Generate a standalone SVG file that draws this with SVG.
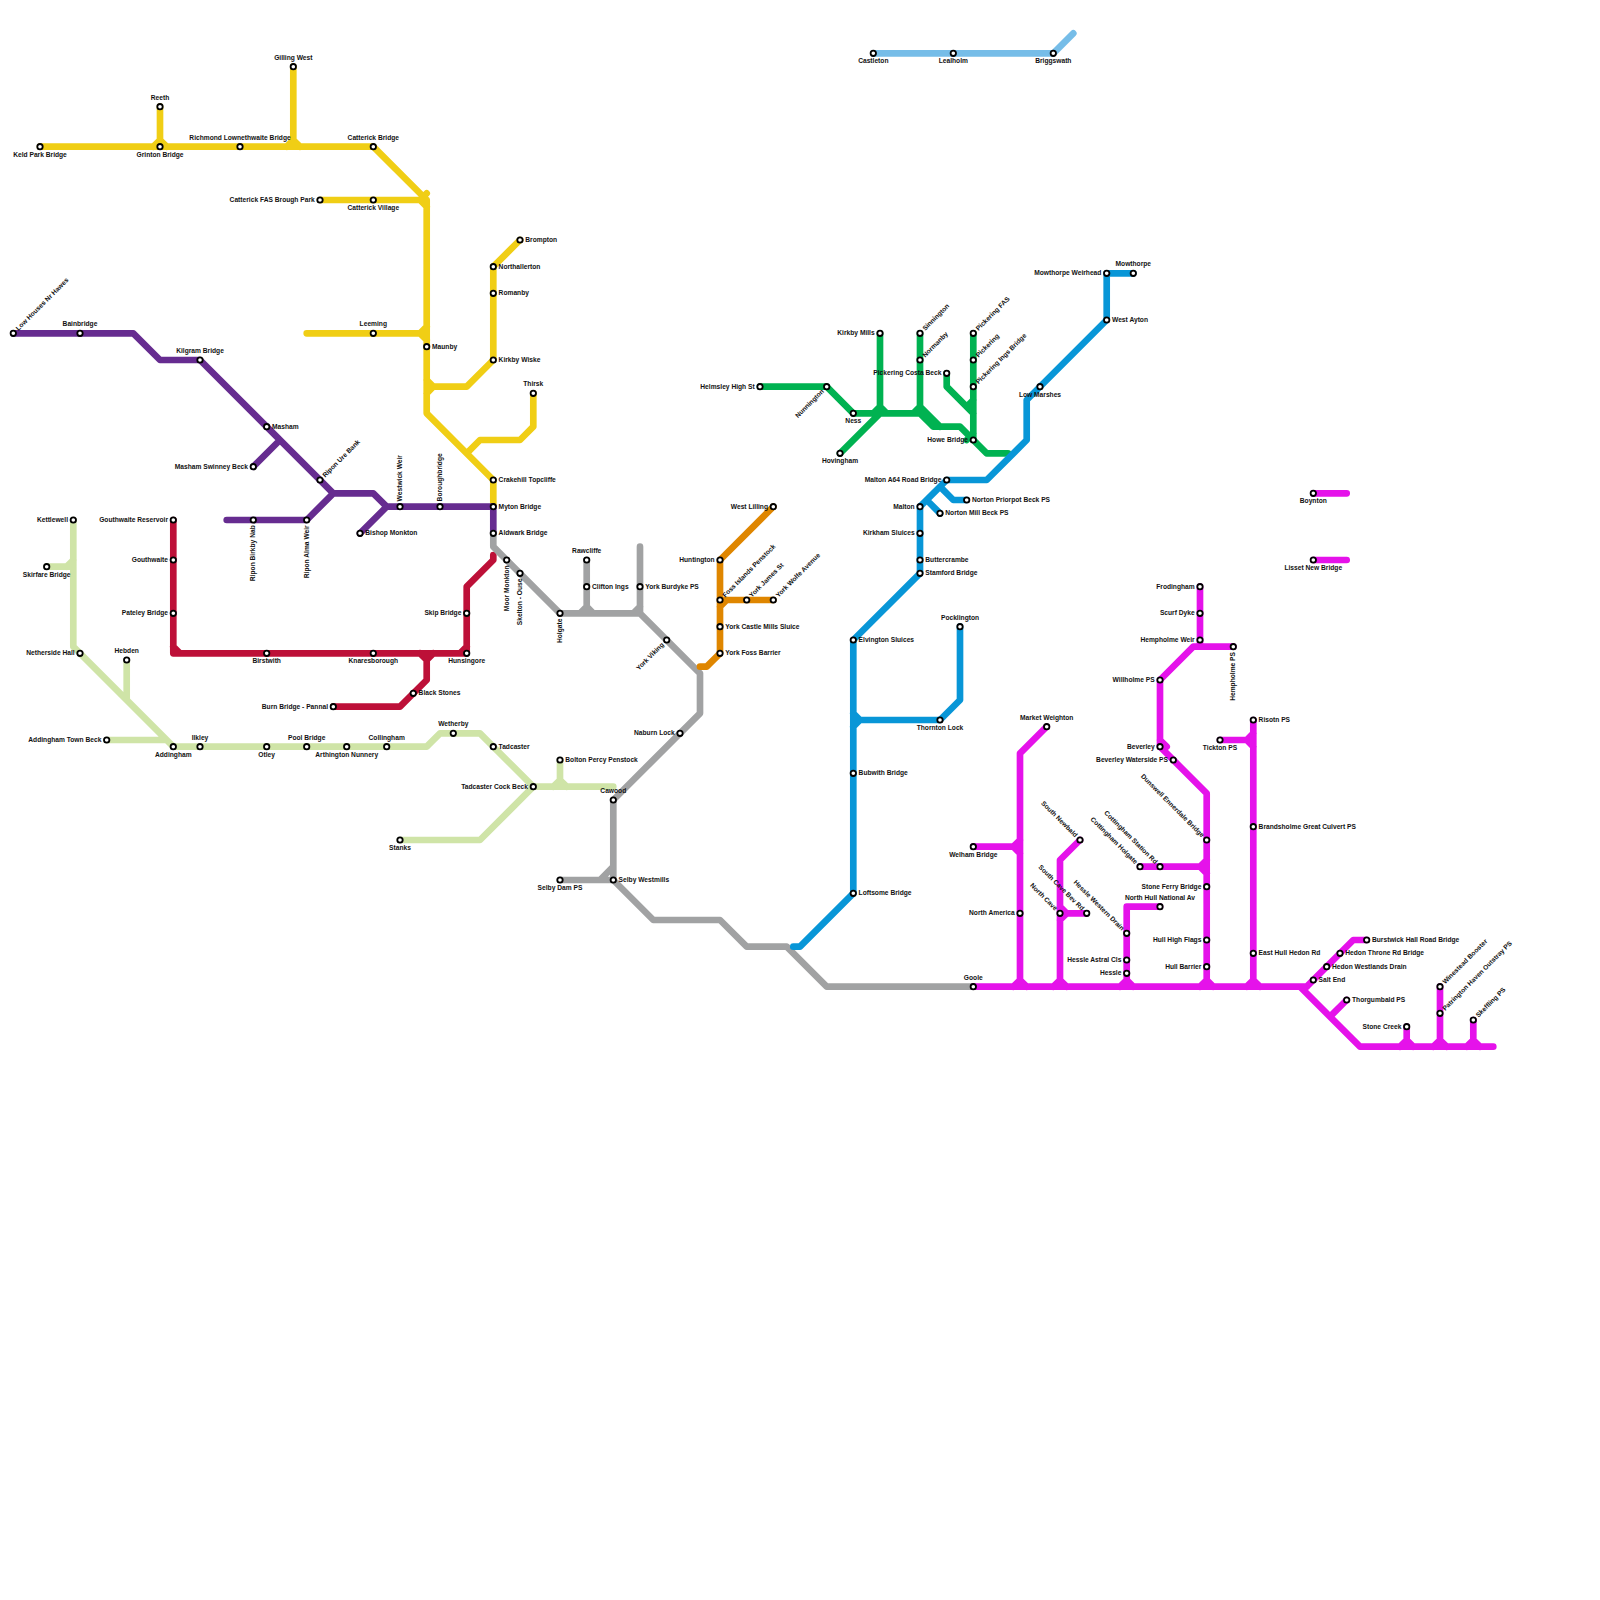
<svg xmlns="http://www.w3.org/2000/svg" width="1600" height="1600" viewBox="0 0 1600 1600">
<style>
text{font-family:"Liberation Sans",Arial,sans-serif;font-size:6.67px;font-weight:bold;fill:#111}
circle{fill:#fff;stroke:#000;stroke-width:1.8}
.l{fill:none;stroke-width:6.67;stroke-linecap:round;stroke-linejoin:round}
.e{text-anchor:end}.m{text-anchor:middle}
</style>
<rect width="1600" height="1600" fill="#fff"/>
<g id="connectors">
<path id="line-lightblue" class="l" stroke="#76bde8" d="M873.3,53.3H1053.3L1073.3,33.3"/>
<path id="line-yellow" class="l" stroke="#f0ce15" d="M40,146.7H373.3L426.7,200V413.3L493.3,480V506.7M160,106.7V146.7M153.3,146.7L160,140L166.7,146.7M293.3,66.7V146.7M286.7,146.7L293.3,140L300,146.7M320,200H426.7M426.7,193.3L420,200L426.7,206.7M306.7,333.3H426.7M426.7,326.7L420,333.3L426.7,340M426.7,386.7H466.7L493.3,360V266.7L520,240M426.7,380L433.3,386.7L426.7,393.3M533.3,393.3V426.7L520,440H480L466.7,453.3"/>
<path id="line-purple" class="l" stroke="#662c90" d="M13.3,333.3H133.3L160,360H200L333.3,493.3H373.3L386.7,506.7H493.3V533.3M253.3,466.7L280,440M226.7,520H306.7L333.3,493.3M360,533.3L386.7,506.7"/>
<path id="line-crimson" class="l" stroke="#bd1038" d="M173.3,520V653.3H466.7V586.7L493.3,560V555M173.3,646.7L180,653.3M460,653.3L466.7,646.7M426.7,653.3V680L400,706.7H333.3M420,653.3L426.7,660L433.3,653.3"/>
<path id="line-lightgreen" class="l" stroke="#cfe4a7" d="M73.3,520V646.7L173.3,746.7H426.7L440,733.3H480L533.3,786.7H613.3M46.7,566.7H73.3M66.7,566.7L73.3,560M126.7,660V700L120,693.3M106.7,740H166.7L160,733.3M560,760V786.7M553.3,786.7L560,780L566.7,786.7M400,840H480L533.3,786.7"/>
<path id="line-grey" class="l" stroke="#a1a2a3" d="M493.3,533.3V546.7L560,613.3H640L700,673.3V713.3L613.3,800V880L653.3,920H720L746.7,946.7H786.7L826.7,986.7H973.3M586.7,560V613.3M580,613.3L586.7,606.7L593.3,613.3M640,546.7V613.3L633.3,613.3L640,606.7M560,880H613.3M600,880L613.3,866.7V880Z"/>
<path id="line-orange" class="l" stroke="#df8600" d="M773.3,506.7L720,560V653.3L706.7,666.7H700M720,600H773.3M720,606.7L726.7,600"/>
<path id="line-green" class="l" stroke="#00b251" d="M760,386.7H826.7L853.3,413.3H920L933.3,426.7H960L986.7,453.3H1008M880,333.3V413.3M873.3,413.3L880,406.7L886.7,413.3M840,453.3L880,413.3M920,333.3V413.3M913.3,413.3L920,406.7L940,426.7M973.3,333.3V440M966.7,440L973.3,433.3M946.7,373.3V386.7L973.3,413.3M966.7,406.7L973.3,400"/>
<path id="line-blue" class="l" stroke="#0896d7" d="M1133.3,273.3H1106.7V320L1026.7,400V440L986.7,480H946.7L920,506.7V573.3L853.3,640V893.3L800,946.7H793.3M940,486.7L953.3,500H966.7M926.7,500L940,513.3M960,626.7V700L940,720H853.3M853.3,713.3L860,720L853.3,726.7"/>
<path id="line-magenta" class="l" stroke="#e512ea" d="M973.3,986.7H1306.7M1300,986.7L1360,1046.7H1493.3M1306.7,986.7L1353.3,940H1366.7M1346.7,1000L1330,1016.7M1406.7,1026.7V1046.7M1400,1046.7L1406.7,1040L1413.3,1046.7M1440,986.7V1046.7M1433.3,1046.7L1440,1040L1446.7,1046.7M1473.3,1020V1046.7M1466.7,1046.7L1473.3,1040L1480,1046.7M1046.7,726.7L1020,753.3V986.7M1013.3,986.7L1020,980L1026.7,986.7M973.3,846.7H1020M1020,840L1013.3,846.7L1020,853.3M1080,840L1060,860V986.7M1053.3,986.7L1060,980L1066.7,986.7M1060,913.3H1086.7M1060,906.7L1066.7,913.3L1060,920M1160,906.7H1126.7V986.7M1120,986.7L1126.7,980L1133.3,986.7M1200,586.7V646.7M1233.3,646.7H1193.3L1160,680V746.7L1206.7,793.3V986.7M1200,986.7L1206.7,980L1213.3,986.7M1140,866.7H1206.7M1206.7,860L1200,866.7L1206.7,873.3M1220,740H1253.3M1253.3,733.3L1246.7,740L1253.3,746.7M1253.3,720V986.7M1246.7,986.7L1253.3,980L1260,986.7M1160,740L1166.7,746.7M1313.3,493.3H1346.7M1313.3,560H1346.7"/>
</g>
<g id="nodes">
<g id="keld-park-bridge"><circle cx="40" cy="146.7" r="2.7"/><text class="m" x="40" y="156.7">Keld Park Bridge</text></g>
<g id="grinton-bridge"><circle cx="160" cy="146.7" r="2.7"/><text class="m" x="160" y="156.7">Grinton Bridge</text></g>
<g id="reeth"><circle cx="160" cy="106.7" r="2.7"/><text class="m" x="160" y="99.7">Reeth</text></g>
<g id="richmond"><circle cx="240" cy="146.7" r="2.7"/><text class="m" x="240" y="139.7">Richmond Lownethwaite Bridge</text></g>
<g id="gilling-west"><circle cx="293.3" cy="66.7" r="2.7"/><text class="m" x="293.3" y="59.7">Gilling West</text></g>
<g id="catterick-bridge"><circle cx="373.3" cy="146.7" r="2.7"/><text class="m" x="373.3" y="139.7">Catterick Bridge</text></g>
<g id="catterick-fas"><circle cx="320" cy="200" r="2.7"/><text class="e" x="314.7" y="202">Catterick FAS Brough Park</text></g>
<g id="catterick-village"><circle cx="373.3" cy="200" r="2.7"/><text class="m" x="373.3" y="210">Catterick Village</text></g>
<g id="leeming"><circle cx="373.3" cy="333.3" r="2.7"/><text class="m" x="373.3" y="326.3">Leeming</text></g>
<g id="maunby"><circle cx="426.7" cy="346.7" r="2.7"/><text x="432" y="348.7">Maunby</text></g>
<g id="brompton"><circle cx="520" cy="240" r="2.7"/><text x="525.3" y="242">Brompton</text></g>
<g id="northallerton"><circle cx="493.3" cy="266.7" r="2.7"/><text x="498.6" y="268.7">Northallerton</text></g>
<g id="romanby"><circle cx="493.3" cy="293.3" r="2.7"/><text x="498.6" y="295.3">Romanby</text></g>
<g id="kirkby-wiske"><circle cx="493.3" cy="360" r="2.7"/><text x="498.6" y="362">Kirkby Wiske</text></g>
<g id="thirsk"><circle cx="533.3" cy="393.3" r="2.7"/><text class="m" x="533.3" y="386.3">Thirsk</text></g>
<g id="crakehill-topcliffe"><circle cx="493.3" cy="480" r="2.7"/><text x="498.6" y="482">Crakehill Topcliffe</text></g>
<g id="myton-bridge"><circle cx="493.3" cy="506.7" r="2.7"/><text x="498.6" y="508.7">Myton Bridge</text></g>
<g id="aldwark-bridge"><circle cx="493.3" cy="533.3" r="2.7"/><text x="498.6" y="535.3">Aldwark Bridge</text></g>
<g id="low-houses"><circle cx="13.3" cy="333.3" r="2.7"/><text x="18.6" y="335.3" transform="rotate(-45 13.3 333.3)">Low Houses Nr Hawes</text></g>
<g id="bainbridge"><circle cx="80" cy="333.3" r="2.7"/><text class="m" x="80" y="326.3">Bainbridge</text></g>
<g id="kilgram-bridge"><circle cx="200" cy="360" r="2.7"/><text class="m" x="200" y="353">Kilgram Bridge</text></g>
<g id="masham"><circle cx="266.7" cy="426.7" r="2.7"/><text x="272" y="428.7">Masham</text></g>
<g id="masham-swinney-beck"><circle cx="253.3" cy="466.7" r="2.7"/><text class="e" x="248" y="468.7">Masham Swinney Beck</text></g>
<g id="ripon-ure-bank"><circle cx="320" cy="480" r="2.7"/><text x="325.3" y="482" transform="rotate(-45 320 480)">Ripon Ure Bank</text></g>
<g id="westwick-weir"><circle cx="400" cy="506.7" r="2.7"/><text x="405.3" y="508.7" transform="rotate(-90 400 506.7)">Westwick Weir</text></g>
<g id="boroughbridge"><circle cx="440" cy="506.7" r="2.7"/><text x="445.3" y="508.7" transform="rotate(-90 440 506.7)">Boroughbridge</text></g>
<g id="bishop-monkton"><circle cx="360" cy="533.3" r="2.7"/><text x="365.3" y="535.3">Bishop Monkton</text></g>
<g id="ripon-alma-weir"><circle cx="306.7" cy="520" r="2.7"/><text class="e" x="301.4" y="522" transform="rotate(-90 306.7 520)">Ripon Alma Weir</text></g>
<g id="ripon-birkby-nab"><circle cx="253.3" cy="520" r="2.7"/><text class="e" x="248" y="522" transform="rotate(-90 253.3 520)">Ripon Birkby Nab</text></g>
<g id="gouthwaite-reservoir"><circle cx="173.3" cy="520" r="2.7"/><text class="e" x="168" y="522">Gouthwaite Reservoir</text></g>
<g id="gouthwaite"><circle cx="173.3" cy="560" r="2.7"/><text class="e" x="168" y="562">Gouthwaite</text></g>
<g id="pateley-bridge"><circle cx="173.3" cy="613.3" r="2.7"/><text class="e" x="168" y="615.3">Pateley Bridge</text></g>
<g id="birstwith"><circle cx="266.7" cy="653.3" r="2.7"/><text class="m" x="266.7" y="663.3">Birstwith</text></g>
<g id="knaresborough"><circle cx="373.3" cy="653.3" r="2.7"/><text class="m" x="373.3" y="663.3">Knaresborough</text></g>
<g id="hunsingore"><circle cx="466.7" cy="653.3" r="2.7"/><text class="m" x="466.7" y="663.3">Hunsingore</text></g>
<g id="skip-bridge"><circle cx="466.7" cy="613.3" r="2.7"/><text class="e" x="461.4" y="615.3">Skip Bridge</text></g>
<g id="black-stones"><circle cx="413.3" cy="693.3" r="2.7"/><text x="418.6" y="695.3">Black Stones</text></g>
<g id="burn-bridge-pannal"><circle cx="333.3" cy="706.7" r="2.7"/><text class="e" x="328" y="708.7">Burn Bridge - Pannal</text></g>
<g id="kettlewell"><circle cx="73.3" cy="520" r="2.7"/><text class="e" x="68" y="522">Kettlewell</text></g>
<g id="skirfare-bridge"><circle cx="46.7" cy="566.7" r="2.7"/><text class="m" x="46.7" y="576.7">Skirfare Bridge</text></g>
<g id="netherside-hall"><circle cx="80" cy="653.3" r="2.7"/><text class="e" x="74.7" y="655.3">Netherside Hall</text></g>
<g id="hebden"><circle cx="126.7" cy="660" r="2.7"/><text class="m" x="126.7" y="653">Hebden</text></g>
<g id="addingham-town-beck"><circle cx="106.7" cy="740" r="2.7"/><text class="e" x="101.4" y="742">Addingham Town Beck</text></g>
<g id="addingham"><circle cx="173.3" cy="746.7" r="2.7"/><text class="m" x="173.3" y="756.7">Addingham</text></g>
<g id="ilkley"><circle cx="200" cy="746.7" r="2.7"/><text class="m" x="200" y="739.7">Ilkley</text></g>
<g id="otley"><circle cx="266.7" cy="746.7" r="2.7"/><text class="m" x="266.7" y="756.7">Otley</text></g>
<g id="pool-bridge"><circle cx="306.7" cy="746.7" r="2.7"/><text class="m" x="306.7" y="739.7">Pool Bridge</text></g>
<g id="arthington-nunnery"><circle cx="346.7" cy="746.7" r="2.7"/><text class="m" x="346.7" y="756.7">Arthington Nunnery</text></g>
<g id="collingham"><circle cx="386.7" cy="746.7" r="2.7"/><text class="m" x="386.7" y="739.7">Collingham</text></g>
<g id="wetherby"><circle cx="453.3" cy="733.3" r="2.7"/><text class="m" x="453.3" y="726.3">Wetherby</text></g>
<g id="tadcaster"><circle cx="493.3" cy="746.7" r="2.7"/><text x="498.6" y="748.7">Tadcaster</text></g>
<g id="tadcaster-cock-beck"><circle cx="533.3" cy="786.7" r="2.7"/><text class="e" x="528" y="788.7">Tadcaster Cock Beck</text></g>
<g id="bolton-percy-penstock"><circle cx="560" cy="760" r="2.7"/><text x="565.3" y="762">Bolton Percy Penstock</text></g>
<g id="stanks"><circle cx="400" cy="840" r="2.7"/><text class="m" x="400" y="850">Stanks</text></g>
<g id="moor-monkton"><circle cx="506.7" cy="560" r="2.7"/><text class="e" x="501.4" y="562" transform="rotate(-90 506.7 560)">Moor Monkton</text></g>
<g id="skelton-ouse"><circle cx="520" cy="573.3" r="2.7"/><text class="e" x="514.7" y="575.3" transform="rotate(-90 520 573.3)">Skelton - Ouse</text></g>
<g id="holgate"><circle cx="560" cy="613.3" r="2.7"/><text class="e" x="554.7" y="615.3" transform="rotate(-90 560 613.3)">Holgate</text></g>
<g id="rawcliffe"><circle cx="586.7" cy="560" r="2.7"/><text class="m" x="586.7" y="553">Rawcliffe</text></g>
<g id="clifton-ings"><circle cx="586.7" cy="586.7" r="2.7"/><text x="592" y="588.7">Clifton Ings</text></g>
<g id="york-burdyke-ps"><circle cx="640" cy="586.7" r="2.7"/><text x="645.3" y="588.7">York Burdyke PS</text></g>
<g id="york-viking"><circle cx="666.7" cy="640" r="2.7"/><text class="e" x="661.4" y="642" transform="rotate(-45 666.7 640)">York Viking</text></g>
<g id="naburn-lock"><circle cx="680" cy="733.3" r="2.7"/><text class="e" x="674.7" y="735.3">Naburn Lock</text></g>
<g id="cawood"><circle cx="613.3" cy="800" r="2.7"/><text class="m" x="613.3" y="793">Cawood</text></g>
<g id="selby-westmills"><circle cx="613.3" cy="880" r="2.7"/><text x="618.6" y="882">Selby Westmills</text></g>
<g id="selby-dam-ps"><circle cx="560" cy="880" r="2.7"/><text class="m" x="560" y="890">Selby Dam PS</text></g>
<g id="west-lilling"><circle cx="773.3" cy="506.7" r="2.7"/><text class="e" x="768" y="508.7">West Lilling</text></g>
<g id="huntington"><circle cx="720" cy="560" r="2.7"/><text class="e" x="714.7" y="562">Huntington</text></g>
<g id="foss-islands-penstock"><circle cx="720" cy="600" r="2.7"/><text x="725.3" y="602" transform="rotate(-45 720 600)">Foss Islands Penstock</text></g>
<g id="york-james-st"><circle cx="746.7" cy="600" r="2.7"/><text x="752" y="602" transform="rotate(-45 746.7 600)">York James St</text></g>
<g id="york-wolfe-avenue"><circle cx="773.3" cy="600" r="2.7"/><text x="778.6" y="602" transform="rotate(-45 773.3 600)">York Wolfe Avenue</text></g>
<g id="york-castle-mills-sluice"><circle cx="720" cy="626.7" r="2.7"/><text x="725.3" y="628.7">York Castle Mills Sluice</text></g>
<g id="york-foss-barrier"><circle cx="720" cy="653.3" r="2.7"/><text x="725.3" y="655.3">York Foss Barrier</text></g>
<g id="helmsley-high-st"><circle cx="760" cy="386.7" r="2.7"/><text class="e" x="754.7" y="388.7">Helmsley High St</text></g>
<g id="nunnington"><circle cx="826.7" cy="386.7" r="2.7"/><text class="e" x="821.4" y="388.7" transform="rotate(-45 826.7 386.7)">Nunnington</text></g>
<g id="ness"><circle cx="853.3" cy="413.3" r="2.7"/><text class="m" x="853.3" y="423.3">Ness</text></g>
<g id="hovingham"><circle cx="840" cy="453.3" r="2.7"/><text class="m" x="840" y="463.3">Hovingham</text></g>
<g id="kirkby-mills"><circle cx="880" cy="333.3" r="2.7"/><text class="e" x="874.7" y="335.3">Kirkby Mills</text></g>
<g id="sinnington"><circle cx="920" cy="333.3" r="2.7"/><text x="925.3" y="335.3" transform="rotate(-45 920 333.3)">Sinnington</text></g>
<g id="normanby"><circle cx="920" cy="360" r="2.7"/><text x="925.3" y="362" transform="rotate(-45 920 360)">Normanby</text></g>
<g id="pickering-costa-beck"><circle cx="946.7" cy="373.3" r="2.7"/><text class="e" x="941.4" y="375.3">Pickering Costa Beck</text></g>
<g id="pickering-fas"><circle cx="973.3" cy="333.3" r="2.7"/><text x="978.6" y="335.3" transform="rotate(-45 973.3 333.3)">Pickering FAS</text></g>
<g id="pickering"><circle cx="973.3" cy="360" r="2.7"/><text x="978.6" y="362" transform="rotate(-45 973.3 360)">Pickering</text></g>
<g id="pickering-ings-bridge"><circle cx="973.3" cy="386.7" r="2.7"/><text x="978.6" y="388.7" transform="rotate(-45 973.3 386.7)">Pickering Ings Bridge</text></g>
<g id="howe-bridge"><circle cx="973.3" cy="440" r="2.7"/><text class="e" x="968" y="442">Howe Bridge</text></g>
<g id="mowthorpe-weirhead"><circle cx="1106.7" cy="273.3" r="2.7"/><text class="e" x="1101.4" y="275.3">Mowthorpe Weirhead</text></g>
<g id="mowthorpe"><circle cx="1133.3" cy="273.3" r="2.7"/><text class="m" x="1133.3" y="266.3">Mowthorpe</text></g>
<g id="west-ayton"><circle cx="1106.7" cy="320" r="2.7"/><text x="1112" y="322">West Ayton</text></g>
<g id="low-marshes"><circle cx="1040" cy="386.7" r="2.7"/><text class="m" x="1040" y="396.7">Low Marshes</text></g>
<g id="malton-a64"><circle cx="946.7" cy="480" r="2.7"/><text class="e" x="941.4" y="482">Malton A64 Road Bridge</text></g>
<g id="norton-priorpot"><circle cx="966.7" cy="500" r="2.7"/><text x="972" y="502">Norton Priorpot Beck PS</text></g>
<g id="norton-mill-beck"><circle cx="940" cy="513.3" r="2.7"/><text x="945.3" y="515.3">Norton Mill Beck PS</text></g>
<g id="malton"><circle cx="920" cy="506.7" r="2.7"/><text class="e" x="914.7" y="508.7">Malton</text></g>
<g id="kirkham-sluices"><circle cx="920" cy="533.3" r="2.7"/><text class="e" x="914.7" y="535.3">Kirkham Sluices</text></g>
<g id="buttercrambe"><circle cx="920" cy="560" r="2.7"/><text x="925.3" y="562">Buttercrambe</text></g>
<g id="stamford-bridge"><circle cx="920" cy="573.3" r="2.7"/><text x="925.3" y="575.3">Stamford Bridge</text></g>
<g id="elvington-sluices"><circle cx="853.3" cy="640" r="2.7"/><text x="858.6" y="642">Elvington Sluices</text></g>
<g id="pocklington"><circle cx="960" cy="626.7" r="2.7"/><text class="m" x="960" y="619.7">Pocklington</text></g>
<g id="thornton-lock"><circle cx="940" cy="720" r="2.7"/><text class="m" x="940" y="730">Thornton Lock</text></g>
<g id="bubwith-bridge"><circle cx="853.3" cy="773.3" r="2.7"/><text x="858.6" y="775.3">Bubwith Bridge</text></g>
<g id="loftsome-bridge"><circle cx="853.3" cy="893.3" r="2.7"/><text x="858.6" y="895.3">Loftsome Bridge</text></g>
<g id="castleton"><circle cx="873.3" cy="53.3" r="2.7"/><text class="m" x="873.3" y="63.3">Castleton</text></g>
<g id="lealholm"><circle cx="953.3" cy="53.3" r="2.7"/><text class="m" x="953.3" y="63.3">Lealholm</text></g>
<g id="briggswath"><circle cx="1053.3" cy="53.3" r="2.7"/><text class="m" x="1053.3" y="63.3">Briggswath</text></g>
<g id="goole"><circle cx="973.3" cy="986.7" r="2.7"/><text class="m" x="973.3" y="979.7">Goole</text></g>
<g id="market-weighton"><circle cx="1046.7" cy="726.7" r="2.7"/><text class="m" x="1046.7" y="719.7">Market Weighton</text></g>
<g id="welham-bridge"><circle cx="973.3" cy="846.7" r="2.7"/><text class="m" x="973.3" y="856.7">Welham Bridge</text></g>
<g id="north-america"><circle cx="1020" cy="913.3" r="2.7"/><text class="e" x="1014.7" y="915.3">North America</text></g>
<g id="south-newbald"><circle cx="1080" cy="840" r="2.7"/><text class="e" x="1074.7" y="842" transform="rotate(45 1080 840)">South Newbald</text></g>
<g id="north-cave"><circle cx="1060" cy="913.3" r="2.7"/><text class="e" x="1054.7" y="915.3" transform="rotate(45 1060 913.3)">North Cave</text></g>
<g id="south-cave-bev-rd"><circle cx="1086.7" cy="913.3" r="2.7"/><text class="e" x="1081.4" y="915.3" transform="rotate(45 1086.7 913.3)">South Cave Bev Rd</text></g>
<g id="hessle-western-drain"><circle cx="1126.7" cy="933.3" r="2.7"/><text class="e" x="1121.4" y="935.3" transform="rotate(45 1126.7 933.3)">Hessle Western Drain</text></g>
<g id="north-hull-national-av"><circle cx="1160" cy="906.7" r="2.7"/><text class="m" x="1160" y="899.7">North Hull National Av</text></g>
<g id="hessle-astral-cls"><circle cx="1126.7" cy="960" r="2.7"/><text class="e" x="1121.4" y="962">Hessle Astral Cls</text></g>
<g id="hessle"><circle cx="1126.7" cy="973.3" r="2.7"/><text class="e" x="1121.4" y="975.3">Hessle</text></g>
<g id="cottingham-holgate"><circle cx="1140" cy="866.7" r="2.7"/><text class="e" x="1134.7" y="868.7" transform="rotate(45 1140 866.7)">Cottingham Holgate</text></g>
<g id="cottingham-station-rd"><circle cx="1160" cy="866.7" r="2.7"/><text class="e" x="1154.7" y="868.7" transform="rotate(45 1160 866.7)">Cottingham Station Rd</text></g>
<g id="dunswell-ennerdale-bridge"><circle cx="1206.7" cy="840" r="2.7"/><text class="e" x="1201.4" y="842" transform="rotate(45 1206.7 840)">Dunswell Ennerdale Bridge</text></g>
<g id="stone-ferry-bridge"><circle cx="1206.7" cy="886.7" r="2.7"/><text class="e" x="1201.4" y="888.7">Stone Ferry Bridge</text></g>
<g id="hull-high-flags"><circle cx="1206.7" cy="940" r="2.7"/><text class="e" x="1201.4" y="942">Hull High Flags</text></g>
<g id="hull-barrier"><circle cx="1206.7" cy="966.7" r="2.7"/><text class="e" x="1201.4" y="968.7">Hull Barrier</text></g>
<g id="frodingham"><circle cx="1200" cy="586.7" r="2.7"/><text class="e" x="1194.7" y="588.7">Frodingham</text></g>
<g id="scurf-dyke"><circle cx="1200" cy="613.3" r="2.7"/><text class="e" x="1194.7" y="615.3">Scurf Dyke</text></g>
<g id="hempholme-weir"><circle cx="1200" cy="640" r="2.7"/><text class="e" x="1194.7" y="642">Hempholme Weir</text></g>
<g id="hempholme-ps"><circle cx="1233.3" cy="646.7" r="2.7"/><text class="e" x="1228" y="648.7" transform="rotate(-90 1233.3 646.7)">Hempholme PS</text></g>
<g id="willholme-ps"><circle cx="1160" cy="680" r="2.7"/><text class="e" x="1154.7" y="682">Willholme PS</text></g>
<g id="beverley"><circle cx="1160" cy="746.7" r="2.7"/><text class="e" x="1154.7" y="748.7">Beverley</text></g>
<g id="beverley-waterside-ps"><circle cx="1173.3" cy="760" r="2.7"/><text class="e" x="1168" y="762">Beverley Waterside PS</text></g>
<g id="tickton-ps"><circle cx="1220" cy="740" r="2.7"/><text class="m" x="1220" y="750">Tickton PS</text></g>
<g id="risotn-ps"><circle cx="1253.3" cy="720" r="2.7"/><text x="1258.6" y="722">Risotn PS</text></g>
<g id="brandsholme"><circle cx="1253.3" cy="826.7" r="2.7"/><text x="1258.6" y="828.7">Brandsholme Great Culvert PS</text></g>
<g id="east-hull-hedon-rd"><circle cx="1253.3" cy="953.3" r="2.7"/><text x="1258.6" y="955.3">East Hull Hedon Rd</text></g>
<g id="salt-end"><circle cx="1313.3" cy="980" r="2.7"/><text x="1318.6" y="982">Salt End</text></g>
<g id="hedon-westlands-drain"><circle cx="1326.7" cy="966.7" r="2.7"/><text x="1332" y="968.7">Hedon Westlands Drain</text></g>
<g id="hedon-throne-rd-bridge"><circle cx="1340" cy="953.3" r="2.7"/><text x="1345.3" y="955.3">Hedon Throne Rd Bridge</text></g>
<g id="burstwick-hall-road-bridge"><circle cx="1366.7" cy="940" r="2.7"/><text x="1372" y="942">Burstwick Hall Road Bridge</text></g>
<g id="thorgumbald-ps"><circle cx="1346.7" cy="1000" r="2.7"/><text x="1352" y="1002">Thorgumbald PS</text></g>
<g id="stone-creek"><circle cx="1406.7" cy="1026.7" r="2.7"/><text class="e" x="1401.4" y="1028.7">Stone Creek</text></g>
<g id="winestead-booster"><circle cx="1440" cy="986.7" r="2.7"/><text x="1445.3" y="988.7" transform="rotate(-45 1440 986.7)">Winestead Booster</text></g>
<g id="patrington"><circle cx="1440" cy="1013.3" r="2.7"/><text x="1445.3" y="1015.3" transform="rotate(-45 1440 1013.3)">Patrington Haven Outstray PS</text></g>
<g id="skeffling-ps"><circle cx="1473.3" cy="1020" r="2.7"/><text x="1478.6" y="1022" transform="rotate(-45 1473.3 1020)">Skeffling PS</text></g>
<g id="boynton"><circle cx="1313.3" cy="493.3" r="2.7"/><text class="m" x="1313.3" y="503.3">Boynton</text></g>
<g id="lisset-new-bridge"><circle cx="1313.3" cy="560" r="2.7"/><text class="m" x="1313.3" y="570">Lisset New Bridge</text></g>
</g>
</svg>
